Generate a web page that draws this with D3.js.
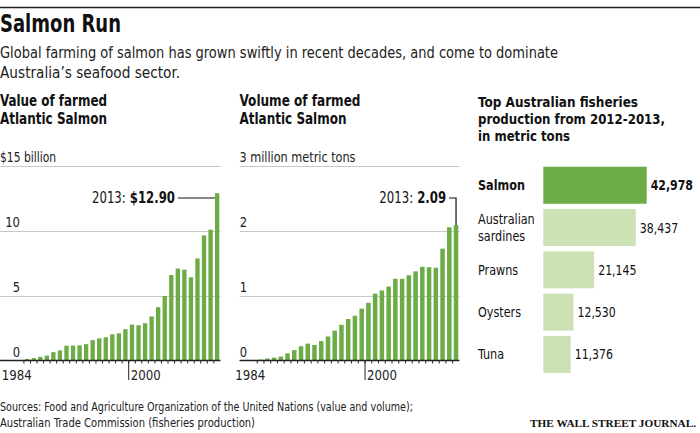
<!DOCTYPE html>
<html><head><meta charset="utf-8">
<script src="https://cdn.jsdelivr.net/npm/d3@7"></script>
<style>
html,body{margin:0;padding:0;background:#fff;}
svg{display:block;}
</style></head>
<body>
<script>
// ---- data ----
const years = d3.range(1984, 2014);
const valueBillions = [0.12,0.19,0.28,0.38,0.64,0.78,1.14,1.15,1.17,1.26,1.57,1.71,1.79,2.02,2.09,2.42,2.77,2.72,2.87,3.40,4.11,4.98,6.59,7.09,7.01,6.42,7.87,9.65,10.09,12.90];
const volumeMillionTons = [0.015,0.03,0.045,0.06,0.11,0.16,0.22,0.26,0.24,0.30,0.37,0.46,0.55,0.64,0.69,0.80,0.89,1.03,1.08,1.14,1.26,1.26,1.315,1.375,1.445,1.44,1.43,1.725,2.055,2.09];
const valueTicks = [0, 5, 10];
const volumeTicks = [0, 1, 2];
const fishCategories = [["Salmon"], ["Australian", "sardines"], ["Prawns"], ["Oysters"], ["Tuna"]];
const fishTons = [42978, 38437, 21145, 12530, 11376];

const SANS = "'DejaVu Sans Condensed','DejaVu Sans',sans-serif";
const GREEN = "#6cab46";
const LIGHT = "#cde2b4";

const W = 700, H = 433;
const svg = d3.select("body").append("svg").attr("width", W).attr("height", H)
  .style("font-family", SANS);

// condense helper: squeeze text to a target width (w) or by a factor (k)
function squeeze(sel, w, k) {
  sel.each(function () {
    const L = this.getComputedTextLength();
    const target = w != null ? w : L * (k || 0.86);
    d3.select(this).attr("textLength", target).attr("lengthAdjust", "spacingAndGlyphs");
  });
  return sel;
}

// top rule
svg.append("line").attr("x1", 0).attr("x2", W).attr("y1", 7.5).attr("y2", 7.5)
  .attr("stroke", "#222").attr("stroke-width", 1.5);

squeeze(svg.append("text").attr("x", 0).attr("y", 32).text("Salmon Run")
  .attr("font-size", 24).attr("font-weight", "bold").attr("fill", "#111"), 121);
squeeze(svg.append("text").attr("x", 0).attr("y", 58)
  .text("Global farming of salmon has grown swiftly in recent decades, and come to dominate")
  .attr("font-size", 15.5).attr("fill", "#222"), 558);
squeeze(svg.append("text").attr("x", 0).attr("y", 78)
  .text("Australia\u2019s seafood sector.")
  .attr("font-size", 15.5).attr("fill", "#222"), 180);

// ---- small multiples ----
function barChart(cfg) {
  const g = svg.append("g");
  cfg.title.forEach((s, i) => {
    squeeze(g.append("text").attr("x", cfg.left).attr("y", 106 + i * 18).text(s)
      .attr("font-size", 16).attr("font-weight", "bold").attr("fill", "#111"), cfg.titleW[i]);
  });

  const x = d3.scaleBand().domain(years).range(cfg.xRange).paddingInner(cfg.pad).paddingOuter(cfg.pad / 2);
  const y = d3.scaleLinear().domain([0, cfg.max]).range([360.5, 166]);

  // gridlines
  const gridVals = cfg.ticks.concat([cfg.max]).filter(v => v !== 0);
  g.selectAll(".grid").data(gridVals).join("line")
    .attr("x1", cfg.left).attr("x2", cfg.xRange[1])
    .attr("y1", d => Math.round(y(d)) + 0.5).attr("y2", d => Math.round(y(d)) + 0.5)
    .attr("stroke", "#c8c8c8").attr("stroke-width", 1);

  // top label
  squeeze(g.append("text").attr("x", cfg.left).attr("y", y(cfg.max) - 4.5).text(cfg.unit)
    .attr("font-size", 13.5).attr("fill", "#222"), cfg.unitW);
  // tick labels
  squeeze(g.selectAll(".tl").data(cfg.ticks).join("text")
    .attr("x", cfg.labelRight).attr("y", d => y(d) - 4).attr("text-anchor", "end")
    .text(d => d).attr("font-size", 14).attr("fill", "#222"), null, 0.92);

  // bars
  g.selectAll(".bar").data(cfg.values).join("rect")
    .attr("x", (d, i) => x(years[i])).attr("width", x.bandwidth())
    .attr("y", d => y(d)).attr("height", d => y(0) - y(d))
    .attr("fill", GREEN);

  // axis
  const axis = d3.axisBottom(x).tickSize(3).tickFormat("");
  const ag = g.append("g").attr("transform", `translate(0,${y(0)})`).call(axis);
  ag.select(".domain").remove();
  const off = x.step() * cfg.pad / 2;
  ag.selectAll(".tick").attr("transform", d => `translate(${x(d) - off},0)`);
  ag.selectAll(".tick line").attr("stroke", "#222");
  g.append("line").attr("x1", cfg.left).attr("x2", cfg.xRange[1])
    .attr("y1", y(0)).attr("y2", y(0)).attr("stroke", "#222").attr("stroke-width", 1.3);
  // long tick at 2000
  const x2000 = x(2000) - off;
  g.append("line").attr("x1", x2000).attr("x2", x2000).attr("y1", y(0)).attr("y2", 380)
    .attr("stroke", "#222").attr("stroke-width", 1);
  squeeze(g.append("text").attr("x", x2000 + 2).attr("y", 380).text("2000")
    .attr("font-size", 14).attr("fill", "#222"), 30);
  squeeze(g.append("text").attr("x", x(1984) + x.bandwidth() + 2.5).attr("y", 380).attr("text-anchor", "end")
    .text("1984").attr("font-size", 14).attr("fill", "#222"), 30);

  // annotation (two separate texts: regular year + bold value)
  const last = cfg.values[cfg.values.length - 1];
  const lx = x(2013), ly = y(last);
  let right;
  if (cfg.elbow) {
    const ex = lx + x.bandwidth() / 2;
    right = ex - 10;
    g.append("path").attr("d", `M${ex - 7},${cfg.annY - 5}H${ex}V${ly}`)
      .attr("fill", "none").attr("stroke", "#111").attr("stroke-width", 1.2);
  } else {
    right = lx - 40;
    g.append("line").attr("x1", lx - 37).attr("x2", lx).attr("y1", cfg.annY - 5).attr("y2", cfg.annY - 5)
      .attr("stroke", "#111").attr("stroke-width", 1.2);
  }
  const tv = g.append("text").attr("x", right).attr("y", cfg.annY).attr("text-anchor", "end")
    .attr("font-size", 15.5).attr("font-weight", "bold").attr("fill", "#111").text(cfg.annValue);
  const vw = tv.node().getComputedTextLength() * 0.84;
  squeeze(tv, vw);
  const ty = g.append("text").attr("x", right - vw - 4).attr("y", cfg.annY).attr("text-anchor", "end")
    .attr("font-size", 15.5).attr("fill", "#111").text("2013:");
  squeeze(ty, null, 0.84);
}

barChart({
  left: 0, labelRight: 20, xRange: [23.9, 220.4], pad: 0.34, max: 15,
  values: valueBillions, ticks: valueTicks, unit: "$15 billion", unitW: 56,
  title: ["Value of farmed", "Atlantic Salmon"], titleW: [107, 107], annValue: "$12.90", annY: 203
});
barChart({
  left: 239.5, labelRight: 247, xRange: [257.2, 459.4], pad: 0.33, max: 3,
  values: volumeMillionTons, ticks: volumeTicks, unit: "3 million metric tons", unitW: 116,
  title: ["Volume of farmed", "Atlantic Salmon"], titleW: [121, 107], annValue: "2.09", annY: 203, elbow: true
});

// ---- Australian fisheries ----
const g3 = svg.append("g");
const fishTitle = ["Top Australian fisheries", "production from 2012-2013,", "in metric tons"];
const fishTitleW = [160, 187, 92];
fishTitle.forEach((s, i) => {
  squeeze(g3.append("text").attr("x", 478).attr("y", 107 + i * 17).text(s)
    .attr("font-size", 14.5).attr("font-weight", "bold").attr("fill", "#111"), fishTitleW[i]);
});
const yb = d3.scaleBand().domain(d3.range(fishTons.length)).range([164.1, 375.6]).paddingInner(0.125).paddingOuter(0.0625);
const xb = d3.scaleLinear().domain([0, fishTons[0]]).range([543.3, 646.7]);
g3.selectAll(".fb").data(fishTons).join("rect")
  .attr("x", xb(0)).attr("y", (d, i) => yb(i))
  .attr("width", d => xb(d) - xb(0)).attr("height", yb.bandwidth())
  .attr("fill", (d, i) => i === 0 ? GREEN : LIGHT);
squeeze(g3.selectAll(".fv").data(fishTons).join("text")
  .attr("x", d => xb(d) + 4).attr("y", (d, i) => yb(i) + yb.bandwidth() / 2 + 5)
  .text(d => d3.format(",")(d))
  .attr("font-size", 14.5).attr("font-weight", (d, i) => i === 0 ? "bold" : "normal").attr("fill", "#111"), null, 0.84);
fishCategories.forEach((lines, i) => {
  const cy = yb(i) + yb.bandwidth() / 2;
  lines.forEach((s, j) => {
    squeeze(g3.append("text").attr("x", 478).attr("y", cy + 5 + (j - (lines.length - 1) / 2) * 16.5)
      .text(s).attr("font-size", 14.5).attr("font-weight", i === 0 ? "bold" : "normal").attr("fill", "#111"), null, 0.86);
  });
});

// ---- footer ----
squeeze(svg.append("text").attr("x", 0).attr("y", 411)
  .text("Sources: Food and Agriculture Organization of the United Nations (value and volume);")
  .attr("font-size", 12.5).attr("fill", "#222"), 413);
squeeze(svg.append("text").attr("x", 0).attr("y", 427)
  .text("Australian Trade Commission (fisheries production)")
  .attr("font-size", 12.5).attr("fill", "#222"), 255);
svg.append("text").attr("x", 530).attr("y", 427)
  .text("THE WALL STREET JOURNAL.").attr("font-family", "'Liberation Serif','DejaVu Serif',serif")
  .attr("font-size", 11).attr("font-weight", "bold").attr("fill", "#111")
  .attr("textLength", 166).attr("lengthAdjust", "spacingAndGlyphs");
</script>
</body></html>
